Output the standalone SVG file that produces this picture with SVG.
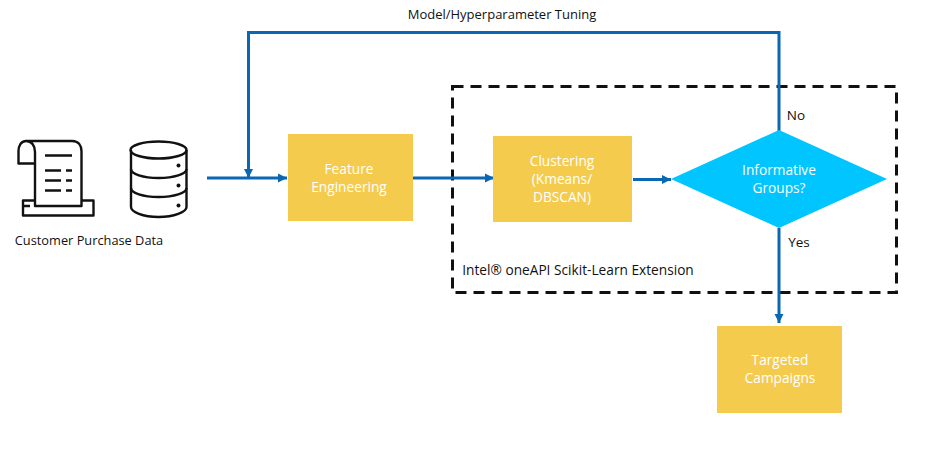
<svg xmlns="http://www.w3.org/2000/svg" width="935" height="457" viewBox="0 0 935 457">
<style>
text{font-family:"Open Sans","Noto Sans","Liberation Sans",sans-serif;font-size:13px;fill:#111;text-anchor:middle}
.w{fill:#fff;font-size:13.7px}
.box{fill:#f5cb4d}
.c{fill:none;stroke:#0a67b3;stroke-width:3}
.i{fill:none;stroke:#111;stroke-width:2.4;stroke-linejoin:round;stroke-linecap:butt}
.t{fill:#111;stroke:none}
</style>
<defs><marker id="a" markerUnits="userSpaceOnUse" markerWidth="10" markerHeight="10" refX="9" refY="5" orient="auto"><path d="M0 0.5L9 5L0 9.5Z" fill="#0a67b3"/></marker></defs>
<rect width="935" height="457" fill="#fff"/>
<g id="receipt-icon">
<path class="i" d="M26 141H72C79 141 81.500 146 81.500 151V206H35V152C35 146 32 141 26 141C21 141 18.500 146 18.500 151V163.500H35"/>
<path class="i" d="M30 206H23V215.500H93.500V200.500H81.500M35 200.500H23V206"/>
<path class="i" d="M45 155.500H72M45 170.500H61M66 170.500H72M45 180.500H61M66 180.500H72M45 190.500H61M66 190.500H72"/>
</g>
<g id="database-icon">
<path class="i" d="M131 150V207C131 212 143 217 158.500 217C174 217 186.500 212 186.500 207V150"/>
<ellipse class="i" cx="158.500" cy="150" rx="28" ry="8.500"/>
<path class="i" d="M131 169C131 174 143 178 158.500 178C174 178 186.500 174 186.500 169M131 188C131 193 143 197 158.500 197C174 197 186.500 193 186.500 188"/>
<circle class="t" cx="178.500" cy="165.500" r="2"/><circle class="t" cx="178.500" cy="185.500" r="2"/><circle class="t" cx="178.500" cy="205.500" r="2"/>
</g>
<text x="89" y="245" id="data-label" style="font-size:12.800px">Customer Purchase Data</text>
<g id="extension-box">
<rect x="452.500" y="86.500" width="444" height="206" fill="none" stroke="#111" stroke-width="3" stroke-dasharray="11 7"/>
<text x="578" y="275" style="font-size:13.700px">Intel® oneAPI Scikit-Learn Extension</text>
</g>
<g id="connectors">
<path class="c" d="M207 178H287" marker-end="url(#a)"/>
<path class="c" d="M779 131V32.500H248.500V178" marker-end="url(#a)"/>
<path class="c" d="M413 178H494" marker-end="url(#a)"/>
<path class="c" d="M633 179.500H671" marker-end="url(#a)"/>
<path class="c" d="M779 228V323" marker-end="url(#a)"/>
</g>
<text x="502" y="19" id="tuning-label">Model/Hyperparameter Tuning</text>
<g id="feature-engineering"><rect class="box" x="288" y="134" width="125" height="87"/><text class="w" x="349" y="173.500">Feature<tspan x="349" dy="18">Engineering</tspan></text></g>
<g id="clustering"><rect class="box" x="493" y="136" width="139" height="86"/><text class="w" x="562" y="165.500">Clustering<tspan x="562" dy="18">(Kmeans/</tspan><tspan x="562" dy="18">DBSCAN)</tspan></text></g>
<g id="informative-groups"><path fill="#00c5ff" d="M779 130L887 179L779 228L671 179Z"/><text class="w" x="779" y="175">Informative<tspan x="779" dy="18">Groups?</tspan></text></g>
<text x="796" y="120" id="no-label" style="font-size:13.500px">No</text>
<text x="799" y="247" id="yes-label" style="font-size:13.500px">Yes</text>
<g id="targeted-campaigns"><rect class="box" x="717" y="326" width="125" height="87"/><text class="w" x="780" y="364.500">Targeted<tspan x="780" dy="18">Campaigns</tspan></text></g>
</svg>
